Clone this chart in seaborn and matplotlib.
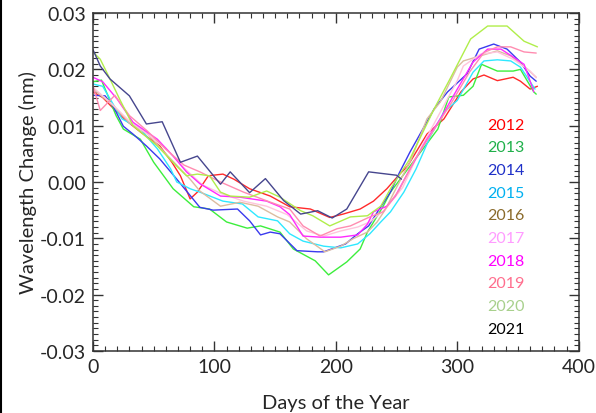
import matplotlib
matplotlib.use("Agg")
import matplotlib.pyplot as plt
from matplotlib.ticker import MultipleLocator, FuncFormatter
from matplotlib.lines import Line2D
import seaborn as sns
import pandas as pd

# Daily wavelength change per year (day of year, nm)
days_2012 = [0, 8, 18, 28, 39, 55, 65, 72, 80, 86, 95, 107, 116, 129, 146, 162, 179, 195, 206, 220,
             231, 242, 253, 259, 275, 289, 303, 313, 322, 333, 346, 352, 360, 366]
wl_2012 = [0.0160, 0.0150, 0.0128, 0.0108, 0.0089, 0.0064, 0.0035, 0.0011, -0.0030, -0.0018, 0.0011,
           0.0014, 0.0005, -0.0012, -0.0025, -0.0044, -0.0048, -0.0063, -0.0057, -0.0048, -0.0034,
           -0.0012, 0.0015, 0.0028, 0.0085, 0.0112, 0.0160, 0.0183, 0.0190, 0.0180, 0.0186, 0.0179,
           0.0165, 0.0170]

days_2013 = [0, 7, 19, 25, 39, 50, 66, 83, 96, 110, 127, 138, 154, 165, 183, 194, 209, 220, 226, 239,
             245, 261, 284, 293, 305, 313, 320, 333, 346, 352, 363, 365]
wl_2013 = [0.0178, 0.0181, 0.0118, 0.0094, 0.0076, 0.0035, -0.0012, -0.0044, -0.0048, -0.0071,
           -0.0082, -0.0078, -0.0089, -0.0119, -0.0140, -0.0165, -0.0142, -0.0119, -0.0089, -0.0043,
           -0.0018, 0.0028, 0.0094, 0.0151, 0.0154, 0.0170, 0.0209, 0.0197, 0.0197, 0.0200, 0.0160,
           0.0156]

days_2014 = [0, 10, 17, 25, 33, 44, 55, 69, 88, 99, 119, 129, 138, 146, 154, 168, 185, 190, 208, 218,
             227, 237, 245, 252, 261, 281, 292, 308, 318, 330, 341, 352, 360, 365]
wl_2014 = [0.0154, 0.0153, 0.0133, 0.0099, 0.0085, 0.0064, 0.0041, 0.0005, -0.0045, -0.0050, -0.0048,
           -0.0069, -0.0094, -0.0089, -0.0092, -0.0122, -0.0124, -0.0124, -0.0110, -0.0092, -0.0078,
           -0.0044, -0.0018, 0.0015, 0.0053, 0.0130, 0.0160, 0.0192, 0.0236, 0.0245, 0.0236, 0.0213,
           0.0188, 0.0179]

days_2015 = [0, 8, 18, 24, 39, 53, 64, 69, 80, 88, 107, 123, 136, 152, 162, 173, 190, 204, 218, 228,
             237, 245, 256, 266, 278, 289, 300, 313, 322, 333, 344, 352, 360, 364]
wl_2015 = [0.0174, 0.0170, 0.0133, 0.0112, 0.0094, 0.0059, 0.0023, 0.0000, -0.0012, -0.0018, -0.0034,
           -0.0039, -0.0062, -0.0069, -0.0092, -0.0105, -0.0114, -0.0117, -0.0110, -0.0092, -0.0071,
           -0.0053, -0.0018, 0.0023, 0.0082, 0.0124, 0.0145, 0.0195, 0.0215, 0.0217, 0.0215, 0.0204,
           0.0178, 0.0165]

days_2016 = [0, 17, 30, 45, 60, 80, 88, 105, 121, 136, 152, 162, 176, 191, 204, 214, 226, 234, 241,
             248, 262, 275, 286, 300, 305, 319, 333, 344, 358, 365]
wl_2016 = [0.0165, 0.0135, 0.0105, 0.0085, 0.0050, 0.0005, -0.0016, -0.0043, -0.0036, -0.0043,
           -0.0062, -0.0071, -0.0101, -0.0124, -0.0114, -0.0101, -0.0089, -0.0071, -0.0048, -0.0018,
           0.0040, 0.0112, 0.0142, 0.0204, 0.0215, 0.0224, 0.0233, 0.0224, 0.0200, 0.0186]

days_2017 = [0, 15, 30, 45, 60, 75, 90, 105, 124, 143, 160, 176, 190, 204, 218, 228, 240, 255, 270,
             285, 300, 305, 319, 333, 346, 360, 365]
wl_2017 = [0.0168, 0.0140, 0.0108, 0.0085, 0.0060, 0.0025, -0.0005, -0.0020, -0.0034, -0.0043,
           -0.0058, -0.0087, -0.0096, -0.0087, -0.0080, -0.0071, -0.0050, -0.0010, 0.0060, 0.0120,
           0.0180, 0.0206, 0.0227, 0.0231, 0.0218, 0.0197, 0.0185]

days_2018 = [0, 8, 20, 33, 53, 66, 77, 88, 105, 121, 143, 154, 162, 173, 187, 204, 218, 226, 231,
             242, 249, 261, 275, 286, 300, 313, 325, 336, 346, 355, 360, 363]
wl_2018 = [0.0186, 0.0178, 0.0147, 0.0106, 0.0076, 0.0046, 0.0018, -0.0003, -0.0025, -0.0027,
           -0.0034, -0.0044, -0.0058, -0.0096, -0.0098, -0.0098, -0.0094, -0.0075, -0.0053, -0.0043,
           -0.0025, 0.0023, 0.0076, 0.0112, 0.0165, 0.0213, 0.0236, 0.0236, 0.0222, 0.0209, 0.0179,
           0.0160]

days_2019 = [0, 6, 18, 30, 45, 60, 75, 88, 105, 124, 145, 162, 173, 187, 201, 212, 228, 239, 252,
             265, 280, 295, 310, 322, 333, 344, 355, 365]
wl_2019 = [0.0171, 0.0127, 0.0154, 0.0118, 0.0090, 0.0058, 0.0030, 0.0018, 0.0000, -0.0018, -0.0035,
           -0.0048, -0.0078, -0.0096, -0.0083, -0.0078, -0.0062, -0.0053, -0.0015, 0.0040, 0.0090,
           0.0140, 0.0195, 0.0230, 0.0240, 0.0240, 0.0231, 0.0229]

days_2020 = [0, 6, 14, 22, 33, 53, 69, 77, 86, 96, 105, 113, 129, 143, 154, 171, 181, 195, 212, 226,
             237, 245, 261, 281, 294, 311, 325, 341, 355, 366]
wl_2020 = [0.0231, 0.0218, 0.0183, 0.0147, 0.0100, 0.0064, 0.0028, 0.0011, 0.0014, 0.0011, -0.0018,
           -0.0025, -0.0027, -0.0016, -0.0027, -0.0051, -0.0060, -0.0078, -0.0062, -0.0060, -0.0043,
           -0.0012, 0.0041, 0.0130, 0.0183, 0.0254, 0.0277, 0.0277, 0.0250, 0.0240]

days_2021 = [0, 6, 14, 30, 44, 57, 72, 86, 105, 113, 129, 142, 157, 171, 185, 197, 209, 227, 250, 254]
wl_2021 = [0.0235, 0.0206, 0.0183, 0.0153, 0.0103, 0.0107, 0.0035, 0.0046, -0.0004, 0.0018, -0.0019,
           0.0006, -0.0033, -0.0057, -0.0051, -0.0064, -0.0048, 0.0018, 0.0012, 0.0005]

years = ["2012", "2013", "2014", "2015", "2016", "2017", "2018", "2019", "2020", "2021"]
series_days = [days_2012, days_2013, days_2014, days_2015, days_2016,
               days_2017, days_2018, days_2019, days_2020, days_2021]
series_wl = [wl_2012, wl_2013, wl_2014, wl_2015, wl_2016,
             wl_2017, wl_2018, wl_2019, wl_2020, wl_2021]

line_colors = ["#ff2a2a", "#3cee3c", "#3a3aee", "#2ee8ff", "#dcbca0",
               "#ffc4dc", "#ff2aff", "#ff8cb0", "#b0ee4a", "#46468e"]
label_colors = ["#ff0000", "#1fb04a", "#1f30c8", "#00b0f0", "#8a6a2a",
                "#ff9cff", "#ff00ff", "#ff6e8e", "#a8d08c", "#000000"]

frames = [pd.DataFrame({"day": d, "wl": w, "year": y})
          for d, w, y in zip(series_days, series_wl, years)]
df = pd.concat(frames, ignore_index=True)

sns.set_style("ticks")
plt.rcParams["font.family"] = ["Lato", "DejaVu Sans"]

fig = plt.figure(figsize=(5.96, 4.14), dpi=100)
ax = fig.add_axes([0.156, 0.150, 0.815, 0.816])

sns.lineplot(data=df, x="day", y="wl", hue="year", palette=dict(zip(years, line_colors)),
             estimator=None, sort=False, linewidth=1.0, legend=False, ax=ax)

ax.set_xlim(0, 400)
ax.set_ylim(-0.03, 0.03)
ax.xaxis.set_major_locator(MultipleLocator(100))
ax.xaxis.set_minor_locator(MultipleLocator(10))
ax.yaxis.set_major_locator(MultipleLocator(0.01))
ax.yaxis.set_minor_locator(MultipleLocator(0.001))
ax.yaxis.set_major_formatter(FuncFormatter(lambda v, p: f"{v:.2f}".replace("-0.00", "0.00")))

ax.tick_params(which="both", direction="in", top=True, right=True, color="#333333",
               labelsize=14, pad=5)
ax.tick_params(which="major", length=7, width=1.0)
ax.tick_params(which="minor", length=3.5, width=0.8)
for s in ax.spines.values():
    s.set_color("#333333")
    s.set_linewidth(1.1)

ax.set_xlabel("Days of the Year", fontsize=14.5, labelpad=14)
ax.set_ylabel("Wavelength Change (nm)", fontsize=14.5, labelpad=2)

# Year labels stacked inside the plot
for i, (y, c) in enumerate(zip(years, label_colors)):
    ax.text(0.812, 0.670 - i * 0.0672, y, color=c, fontsize=11.5,
            transform=ax.transAxes, ha="left", va="center")

fig.add_artist(Line2D([0.002, 0.002], [0, 1], color="black", lw=1.5, transform=fig.transFigure))

fig.savefig("out.png", dpi=100)
